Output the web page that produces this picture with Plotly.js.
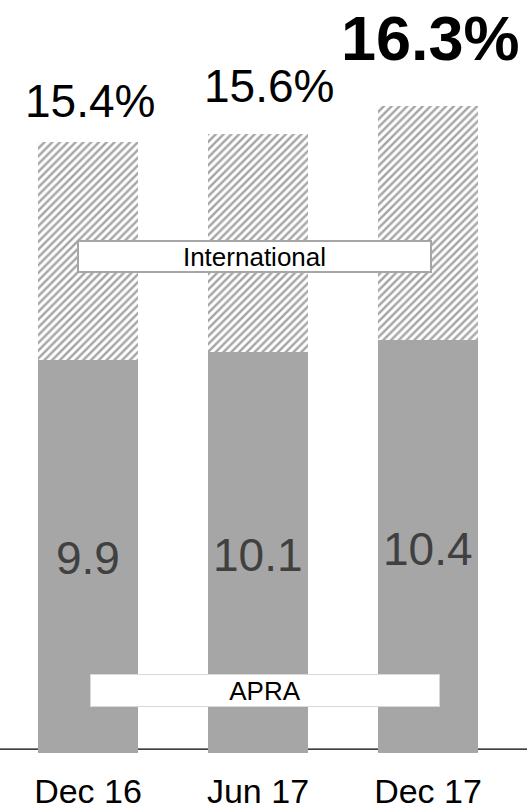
<!DOCTYPE html>
<html>
<head>
<meta charset="utf-8">
<script src="https://cdn.plot.ly/plotly-3.0.1.min.js"></script>
<style>
  html, body { margin: 0; padding: 0; background: #ffffff; }
  #chart { width: 527px; height: 810px; }
</style>
</head>
<body>
<div id="chart"></div>
<script>
// Capital ratio by reporting period: APRA basis plus the extra on an internationally comparable basis
const periods = ['Dec 16', 'Jun 17', 'Dec 17'];
const apraRatio = [9.9, 10.1, 10.4];
const internationalRatio = [15.4, 15.6, 16.3];
const seriesNames = ['APRA', 'International'];

const FONT = 'Liberation Sans, Arial, Helvetica, sans-serif';
const GREY = '#a6a6a6';
const xs = periods.map((_, i) => i);

// Extra capital recognised on the international basis, stacked above APRA
const internationalExtra = internationalRatio.map((v, i) => +(v - apraRatio[i]).toFixed(2));

const traces = [
  {
    type: 'bar',
    name: seriesNames[0],
    x: xs,
    y: apraRatio,
    width: 0.588,
    marker: { color: GREY, line: { width: 0 } },
    hoverinfo: 'skip'
  },
  {
    type: 'bar',
    name: seriesNames[1],
    x: xs,
    y: internationalExtra,
    width: 0.588,
    marker: {
      color: GREY,
      line: { width: 0 },
      pattern: { shape: '/', fgcolor: GREY, bgcolor: '#ffffff', size: 5.5, solidity: 0.45 }
    },
    hoverinfo: 'skip'
  }
];

// Total ratio labels above each bar; the latest period is emphasised
const totalShiftX = [2, 11, 2];
const totalShiftY = [41, 48, 68];
const annotations = internationalRatio.map((v, i) => {
  const latest = i === internationalRatio.length - 1;
  return {
    x: i, y: v, xref: 'x', yref: 'y',
    text: latest ? '<b>' + v.toFixed(1) + '%</b>' : v.toFixed(1) + '%',
    showarrow: false,
    xanchor: 'center', yanchor: 'middle',
    xshift: totalShiftX[i], yshift: totalShiftY[i],
    font: { family: FONT, size: latest ? 63 : 46, color: '#000000' }
  };
});

// APRA values in the middle of the solid segment
apraRatio.forEach((v, i) => {
  annotations.push({
    x: i, y: v / 2, xref: 'x', yref: 'y',
    text: v.toFixed(1),
    showarrow: false,
    xanchor: 'center', yanchor: 'middle',
    yshift: -2,
    font: { family: FONT, size: 46, color: '#404040' }
  });
});

// Series labels in white boxes laid across the bars
annotations.push({
  x: 0.483, y: 0.659, xref: 'paper', yref: 'paper',
  text: seriesNames[1],
  showarrow: false, xanchor: 'center', yanchor: 'middle',
  width: 351, height: 29, borderpad: 0, borderwidth: 2,
  bgcolor: '#ffffff', bordercolor: GREY,
  font: { family: FONT, size: 26, color: '#000000' }
});
annotations.push({
  x: 0.503, y: 0.083, xref: 'paper', yref: 'paper',
  text: seriesNames[0],
  showarrow: false, xanchor: 'center', yanchor: 'middle',
  width: 348, height: 31, borderpad: 0, borderwidth: 1,
  bgcolor: '#ffffff', bordercolor: '#d9d9d9',
  font: { family: FONT, size: 26, color: '#000000' }
});

const layout = {
  width: 527,
  height: 810,
  margin: { l: 0, r: 0, t: 0, b: 57, pad: 0 },
  paper_bgcolor: '#ffffff',
  plot_bgcolor: '#ffffff',
  barmode: 'stack',
  showlegend: false,
  xaxis: {
    range: [-0.51765, 2.58235],
    tickvals: xs,
    ticktext: periods,
    ticks: '',
    showgrid: false,
    zeroline: false,
    showline: false,
    ticklabelstandoff: 15,
    tickfont: { family: FONT, size: 34, color: '#000000' },
    fixedrange: true
  },
  yaxis: {
    range: [0, 18.967],
    visible: false,
    showgrid: false,
    zeroline: false,
    fixedrange: true
  },
  shapes: [
    {
      type: 'line', layer: 'below',
      xref: 'paper', x0: 0, x1: 1,
      yref: 'y', y0: 0.1, y1: 0.1,
      line: { color: '#000000', width: 1.3 }
    }
  ],
  annotations: annotations
};

Plotly.newPlot('chart', traces, layout, { displayModeBar: false, staticPlot: true });
</script>
</body>
</html>
